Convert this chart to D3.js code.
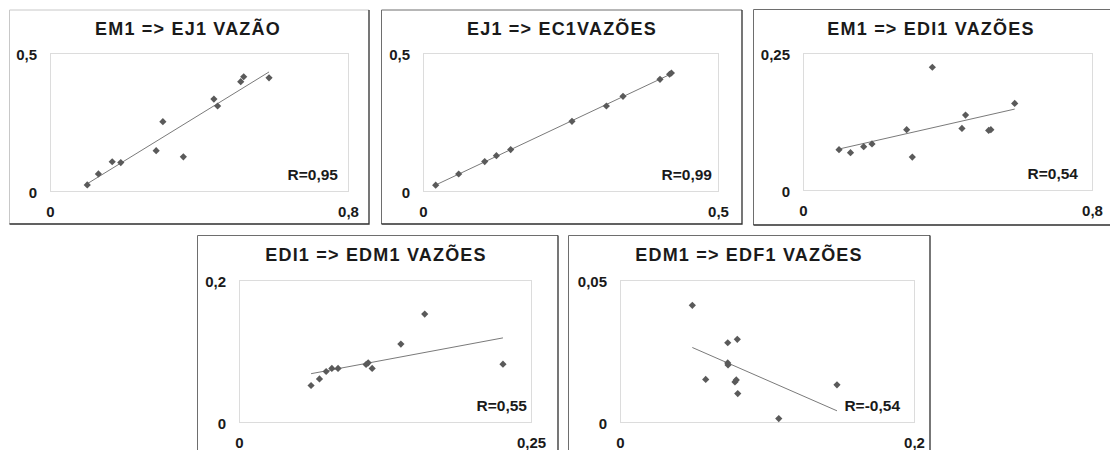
<!DOCTYPE html>
<html>
<head>
<meta charset="utf-8">
<script src="https://cdn.jsdelivr.net/npm/d3@7"></script>
<style>
  html, body { margin: 0; padding: 0; background: #fff; }
  svg { display: block; }
  text { font-family: "Liberation Sans", Arial, sans-serif; font-weight: bold; fill: #1a1a1a; }
</style>
</head>
<body>
<svg id="chart" width="1110" height="450"></svg>
<script>
// ---- Data: flow pairs between stations (x = upstream, y = downstream) ----
const titles = [
  "EM1 => EJ1 VAZÃO",
  "EJ1 => EC1VAZÕES",
  "EM1 => EDI1 VAZÕES",
  "EDI1 => EDM1 VAZÕES",
  "EDM1 => EDF1 VAZÕES"
];
const rLabels = ["R=0,95", "R=0,99", "R=0,54", "R=0,55", "R=-0,54"];

const xDomainMax = [0.8, 0.5, 0.8, 0.25, 0.2];
const yDomainMax = [0.5, 0.5, 0.25, 0.2, 0.05];
const xTickLabels = [["0", "0,8"], ["0", "0,5"], ["0", "0,8"], ["0", "0,25"], ["0", "0,2"]];
const yTickLabels = [["0", "0,5"], ["0", "0,5"], ["0", "0,25"], ["0", "0,2"], ["0", "0,05"]];

const em1Ej1X = [0.100, 0.130, 0.167, 0.190, 0.285, 0.303, 0.358, 0.440, 0.450, 0.512, 0.520, 0.588];
const em1Ej1Y = [0.022, 0.062, 0.106, 0.103, 0.146, 0.251, 0.124, 0.333, 0.308, 0.396, 0.414, 0.410];

const ej1Ec1X = [0.0215, 0.0605, 0.1046, 0.1244, 0.1486, 0.2525, 0.3108, 0.339, 0.4017, 0.418, 0.421];
const ej1Ec1Y = [0.021, 0.0616, 0.1065, 0.128, 0.150, 0.2525, 0.308, 0.343, 0.4047, 0.423, 0.4275];

const em1Edi1X = [0.0997, 0.1315, 0.168, 0.191, 0.287, 0.3026, 0.358, 0.440, 0.450, 0.514, 0.520, 0.586];
const em1Edi1Y = [0.0736, 0.0682, 0.079, 0.084, 0.110, 0.060, 0.224, 0.1124, 0.1367, 0.1087, 0.110, 0.158];

const edi1Edm1X = [0.0617, 0.0689, 0.0746, 0.0795, 0.0848, 0.1088, 0.1106, 0.114, 0.1386, 0.159, 0.226];
const edi1Edm1Y = [0.0514, 0.0607, 0.0711, 0.0754, 0.0754, 0.081, 0.0833, 0.0754, 0.1097, 0.152, 0.0814];

const edm1Edf1X = [0.0492, 0.0583, 0.0733, 0.0798, 0.0733, 0.0735, 0.0782, 0.0791, 0.0801, 0.108, 0.1476];
const edm1Edf1Y = [0.0411, 0.0150, 0.0279, 0.0291, 0.0208, 0.0201, 0.0141, 0.0148, 0.0100, 0.0012, 0.0131];

const seriesX = [em1Ej1X, ej1Ec1X, em1Edi1X, edi1Edm1X, edm1Edf1X];
const seriesY = [em1Ej1Y, ej1Ec1Y, em1Edi1Y, edi1Edm1Y, edm1Edf1Y];

// ---- Layout of the five chart boxes (frame + plot area, in px) ----
const layout = [
  { frame: [9.5, 10, 369, 224], plot: [50, 53, 348, 191], titleX: 188, titleY: 35, rInset: 10, light: true },
  { frame: [381.5, 10, 742, 224], plot: [423, 53, 718, 191], titleX: 562, titleY: 35, rInset: 6 },
  { frame: [753.5, 9.5, 1120, 225], plot: [803, 53, 1092, 190], titleX: 931, titleY: 35, rInset: 14 },
  { frame: [197.5, 235.5, 558, 460], plot: [239, 280, 531, 422], titleX: 376, titleY: 261, rInset: 4 },
  { frame: [568.5, 235.5, 930, 460], plot: [620, 280, 914, 422], titleX: 749, titleY: 261, rInset: 14 }
];

const svg = d3.select("#chart");

function regression(xs, ys) {
  const mx = d3.mean(xs), my = d3.mean(ys);
  let sxy = 0, sxx = 0;
  xs.forEach((x, i) => { sxy += (x - mx) * (ys[i] - my); sxx += (x - mx) * (x - mx); });
  const slope = sxy / sxx;
  return { slope, intercept: my - slope * mx };
}

const diamond = d3.symbol().type(d3.symbolSquare).size(26);

layout.forEach((L, i) => {
  const g = svg.append("g");
  const [fx0, fy0, fx1, fy1] = L.frame;
  const [px0, py0, px1, py1] = L.plot;

  // outer frame: lighter top/left, darker right/bottom
  const topLeft = L.light ? "#c8c8c8" : "#6e6e6e";
  g.append("path").attr("d", `M${fx0},${fy1}V${fy0}H${fx1}`)
    .attr("fill", "none").attr("stroke", topLeft).attr("stroke-width", 1);
  g.append("path").attr("d", `M${fx1},${fy0}V${fy1}H${fx0}`)
    .attr("fill", "none").attr("stroke", "#2e2e2e").attr("stroke-width", 1.3);

  // title
  g.append("text")
    .attr("x", L.titleX).attr("y", L.titleY)
    .attr("text-anchor", "middle")
    .style("font-size", "18px")
    .style("letter-spacing", "1.2px")
    .text(titles[i]);

  const x = d3.scaleLinear().domain([0, xDomainMax[i]]).range([px0, px1]);
  const y = d3.scaleLinear().domain([0, yDomainMax[i]]).range([py1, py0]);

  // plot area
  g.append("rect")
    .attr("x", px0 + 0.5).attr("y", py0 + 0.5)
    .attr("width", px1 - px0).attr("height", py1 - py0)
    .attr("fill", "#fff").attr("stroke", "#dcdcdc").attr("stroke-width", 1);

  // axis end labels
  const xAxis = d3.axisBottom(x)
    .tickValues(x.domain())
    .tickFormat((d, k) => xTickLabels[i][k])
    .tickSize(0).tickPadding(15);
  const xg = g.append("g").attr("transform", `translate(0,${py1})`).call(xAxis);
  xg.select(".domain").remove();
  xg.attr("font-size", null).attr("font-family", null);
  xg.selectAll("text").style("font-size", "15px").attr("fill", "#1a1a1a");

  const yAxis = d3.axisLeft(y)
    .tickValues(y.domain())
    .tickFormat((d, k) => yTickLabels[i][k])
    .tickSize(0).tickPadding(13);
  const yg = g.append("g").attr("transform", `translate(${px0},1.5)`).call(yAxis);
  yg.select(".domain").remove();
  yg.attr("font-size", null).attr("font-family", null);
  yg.selectAll("text").style("font-size", "15px").attr("fill", "#1a1a1a");

  // linear trend line across the data's x extent
  const xs = seriesX[i], ys = seriesY[i];
  const fit = regression(xs, ys);
  const [xmin, xmax] = d3.extent(xs);
  g.append("line")
    .attr("x1", x(xmin)).attr("y1", y(fit.intercept + fit.slope * xmin))
    .attr("x2", x(xmax)).attr("y2", y(fit.intercept + fit.slope * xmax))
    .attr("stroke", "#7a7a7a").attr("stroke-width", 1);

  // points
  g.append("g").selectAll("path")
    .data(xs.map((v, k) => [v, ys[k]]))
    .join("path")
    .attr("d", diamond)
    .attr("transform", d => `translate(${x(d[0])},${y(d[1])}) rotate(45)`)
    .attr("fill", "#5a5a5a");

  // correlation label
  g.append("text")
    .attr("x", px1 - L.rInset).attr("y", py1 - 11)
    .attr("text-anchor", "end")
    .style("font-size", "15.5px")
    .text(rLabels[i]);
});
</script>
</body>
</html>
